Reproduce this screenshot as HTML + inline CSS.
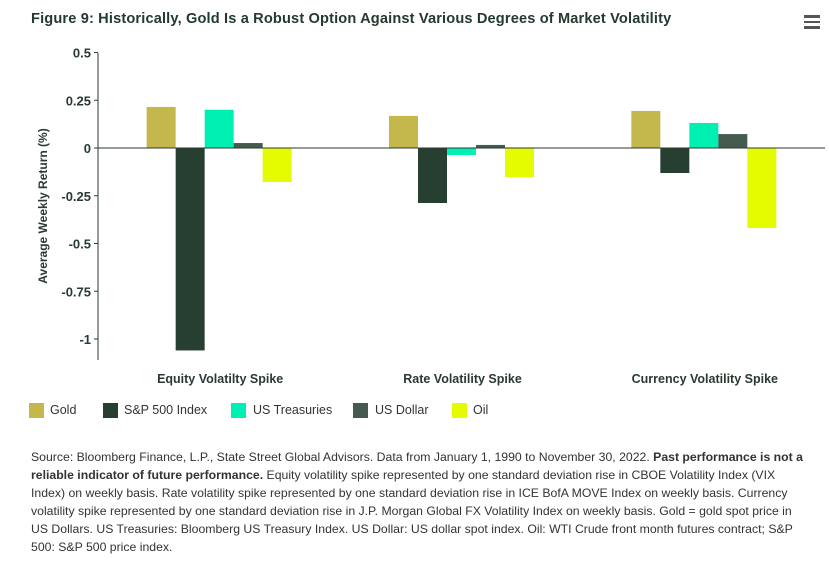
<!DOCTYPE html>
<html><head><meta charset="utf-8"><style>
body{margin:0;width:829px;height:563px;background:#fff;font-family:"Liberation Sans",sans-serif;color:#2a3a30;position:relative;overflow:hidden}
.title{position:absolute;left:31px;top:11px;font-size:14.6px;font-weight:bold;color:#243a2e;letter-spacing:0.15px}
.menu{position:absolute;left:804px;top:15px;width:16px}
.menu div{height:2.5px;background:#555;margin-bottom:3px}
.leg{position:absolute;top:403px;font-size:12.5px;color:#333}
.leg span{position:absolute;top:0;width:15px;height:15px}
.src{position:absolute;left:31px;top:448px;width:779px;font-size:12.25px;line-height:18px;color:#333}
</style></head><body>
<div class="title">Figure 9: Historically, Gold Is a Robust Option Against Various Degrees of Market Volatility</div>
<div class="menu"><div></div><div></div><div></div></div>
<svg id="chart" width="829" height="400" style="position:absolute;left:0;top:0"></svg>
<div>
<div class="leg" style="left:29px"><span style="left:0;background:#c4b74c"></span><b style="position:absolute;left:21px;top:0;font-weight:normal">Gold</b></div>
<div class="leg" style="left:103px"><span style="left:0;background:#263f31"></span><b style="position:absolute;left:21px;top:0;font-weight:normal;white-space:nowrap">S&amp;P 500 Index</b></div>
<div class="leg" style="left:231px"><span style="left:0;background:#00f0b4"></span><b style="position:absolute;left:22px;top:0;font-weight:normal;white-space:nowrap">US Treasuries</b></div>
<div class="leg" style="left:353px"><span style="left:0;background:#465b50"></span><b style="position:absolute;left:22px;top:0;font-weight:normal;white-space:nowrap">US Dollar</b></div>
<div class="leg" style="left:452px"><span style="left:0;background:#e5fc00"></span><b style="position:absolute;left:21px;top:0;font-weight:normal">Oil</b></div>
</div>
<div class="src">Source: Bloomberg Finance, L.P., State Street Global Advisors. Data from January 1, 1990 to November 30, 2022. <b>Past performance is not a reliable indicator of future performance.</b> Equity volatility spike represented by one standard deviation rise in CBOE Volatility Index (VIX Index) on weekly basis. Rate volatility spike represented by one standard deviation rise in ICE BofA MOVE Index on weekly basis. Currency volatility spike represented by one standard deviation rise in J.P. Morgan Global FX Volatility Index on weekly basis. Gold = gold spot price in US Dollars. US Treasuries: Bloomberg US Treasury Index. US Dollar: US dollar spot index. Oil: WTI Crude front month futures contract; S&amp;P 500: S&amp;P 500 price index.</div>
<script>
const categories=["Equity Volatilty Spike","Rate Volatility Spike","Currency Volatility Spike"];
const seriesNames=["Gold","S&P 500 Index","US Treasuries","US Dollar","Oil"];
const gold=[0.215,0.168,0.194];
const sp500=[-1.06,-0.288,-0.131];
const treasuries=[0.20,-0.037,0.131];
const usDollar=[0.026,0.016,0.073];
const oil=[-0.178,-0.152,-0.419];
const tickValues=[0.5,0.25,0,-0.25,-0.5,-0.75,-1];
const tickLabels=["0.5","0.25","0","-0.25","-0.5","-0.75","-1"];
const colors=["#c4b74c","#263f31","#00f0b4","#465b50","#e5fc00"];
const series=[gold,sp500,treasuries,usDollar,oil];
const NS="http://www.w3.org/2000/svg";
const svg=document.getElementById('chart');
const x0=98,x1=825,yTop=53,yZero=148,pxPerUnit=191;
const y=v=>yZero-v*pxPerUnit;
const groupW=(x1-x0)/categories.length,barW=29;
const cx=i=>x0+groupW*(i+0.5);
function mk(t,a){const e=document.createElementNS(NS,t);for(const k in a)e.setAttribute(k,a[k]);svg.appendChild(e);return e;}
tickValues.forEach((v,i)=>{
 const t=mk('text',{x:91,y:y(v)+5,'text-anchor':'end','font-size':13,'font-weight':'bold',fill:'#2a3a30'});
 t.textContent=tickLabels[i];
 
 
 const l=mk('line',{x1:x0-4,x2:x0,y1:y(v),y2:y(v),stroke:'#2a3a30'});
 
 
});
series.forEach((s,si)=>{
 s.forEach((v,ci)=>{
  const bx=cx(ci)-barW*2.5+si*barW;
  const r=mk('rect',{x:bx,y:Math.min(y(v),yZero),width:barW,height:Math.abs(y(v)-yZero),fill:colors[si]});
  
  
 });
});
const ax=mk('line',{x1:x0,x2:x0,y1:yTop,y2:360,stroke:'#2a3a30'});


const zl=mk('line',{x1:x0,x2:x1,y1:yZero,y2:yZero,stroke:'#2a3a30'});


categories.forEach((c,i)=>{
 const t=mk('text',{x:cx(i)+1,y:383,'text-anchor':'middle','font-size':12.5,'font-weight':'bold',fill:'#2a3a30'});
 t.textContent=c;
 
 
});
const yt=mk('text',{x:0,y:0,transform:'translate(47,206) rotate(-90)','text-anchor':'middle','font-size':12,'font-weight':'bold',fill:'#2a3a30'});
yt.textContent='Average Weekly Return (%)';


</script>
</body></html>
